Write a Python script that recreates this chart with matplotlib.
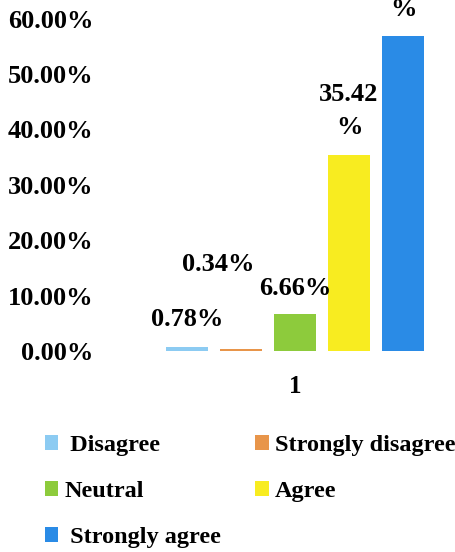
"""
Likert response shares for a single item, drawn as a grouped bar chart.
Output: out.png
"""

import matplotlib
matplotlib.use("Agg")
import matplotlib.pyplot as plt
from matplotlib.patches import Patch
from matplotlib.ticker import FuncFormatter

# ─── Data ─────────────────────────────────────────────────────────────────────

categories = ["Disagree", "Strongly disagree", "Neutral", "Agree", "Strongly agree"]
shares     = [0.0078, 0.0034, 0.0666, 0.3542, 0.5680]
labels     = ["0.78%", "0.34%", "6.66%", "35.42\n%", "56.80\n%"]
colors     = ["#8ccbf2", "#e8954a", "#8dcb3c", "#f8ec20", "#2a8be6"]
group_tick = "1"

# label offsets (pixels) relative to the top of each bar
label_offsets = [(0, 27), (-23, 85), (0, 26), (0, 44), (0, 43)]

# ─── Figure ───────────────────────────────────────────────────────────────────

plt.rcParams["font.family"] = ["Liberation Serif", "DejaVu Serif"]
plt.rcParams["font.weight"] = "bold"

fig = plt.figure(figsize=(4.56, 5.52), dpi=100)
ax  = fig.add_axes([0.241, 0.3641, 0.724, 0.6022])

xs = list(range(len(categories)))
ax.bar(xs, shares, width=0.78, color=colors, zorder=2)

for x, v, lab, off in zip(xs, shares, labels, label_offsets):
    ax.annotate(lab, xy=(x, v), xytext=off, textcoords="offset pixels",
                ha="center", va="center", fontsize=19, fontweight="bold",
                linespacing=1.55, annotation_clip=False)

ax.set_xlim((110 - 187) / 54, (440 - 187) / 54)
ax.set_ylim(0, 0.6)
ax.set_yticks([0, 0.1, 0.2, 0.3, 0.4, 0.5, 0.6])
ax.yaxis.set_major_formatter(FuncFormatter(lambda v, _: f"{v * 100:.2f}%"))
ax.set_xticks([2])
ax.set_xticklabels([group_tick])

ax.tick_params(axis="y", length=0, pad=12, labelsize=19)
ax.tick_params(axis="x", length=0, pad=17, labelsize=18)
for t in ax.get_yticklabels() + ax.get_xticklabels():
    t.set_fontweight("bold")
for spine in ax.spines.values():
    spine.set_visible(False)

# legend: row-wise order across two columns
order   = [0, 2, 4, 1, 3]
handles = [Patch(facecolor=colors[i], edgecolor="none") for i in order]
names   = [" Disagree", "Neutral", " Strongly agree", "Strongly disagree", "Agree"]
fig.legend(handles, names, ncol=2, loc="upper left",
           bbox_to_anchor=(0.077, 0.229), frameon=False, borderaxespad=0,
           prop={"family": "Liberation Serif", "weight": "bold", "size": 17.5},
           handlelength=0.55, handleheight=0.55, handletextpad=0.25,
           labelspacing=1.02, columnspacing=1.4)

plt.savefig("out.png", dpi=100)
